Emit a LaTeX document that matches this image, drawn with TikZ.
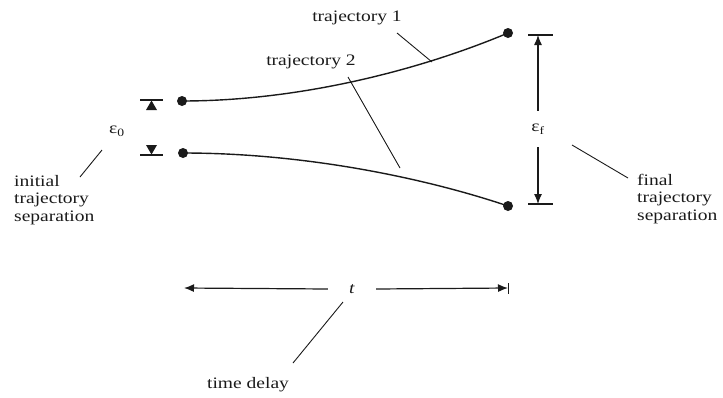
\documentclass[tikz,border=0pt]{standalone}
\usepackage{fontspec}
\setmainfont[FakeStretch=1.22]{Liberation Serif}
\usetikzlibrary{arrows.meta}
\definecolor{ink}{HTML}{1A1A1A}
\tikzset{
  dot/.style={circle, fill=ink, inner sep=0pt, minimum size=10pt},
  lbl/.style={font=\fontsize{16}{17.5}\selectfont, text=ink, inner sep=0pt},
  blk/.style={lbl, align=left, anchor=north west},
  curve/.style={draw=ink, line width=1.4pt},
  lead/.style={draw=ink, line width=0.9pt},
  bar/.style={draw=ink, line width=1.2pt},
  arr/.style={draw=ink, line width=1.2pt, -{Latex[length=10pt,width=8pt]}},
  tri/.style={fill=ink}
}
\begin{document}
\begin{tikzpicture}[x=1pt,y=-1pt]
\useasboundingbox (0,0) rectangle (723,397);

% trajectory end points
\node[dot] (a1) at (182,101) {};
\node[dot] (a2) at (183,153) {};
\node[dot] (b1) at (508,33) {};
\node[dot] (b2) at (508,206) {};

% trajectories
\draw[curve] (a1.center) .. controls (300,101) and (420,70) .. (b1.center);
\draw[curve] (a2.center) .. controls (305,153) and (425,178) .. (b2.center);

% trajectory labels
\node[lbl] (t1) at (357,18) {trajectory 1};
\node[lbl] (t2) at (311,62) {trajectory 2};
\coordinate (t1s) at (397,33);
\coordinate (t1e) at (432,62);
\coordinate (t2s) at (348,77);
\coordinate (t2e) at (400,168);
\draw[lead] (t1s) -- (t1e);
\draw[lead] (t2s) -- (t2e);

% initial separation markers
\coordinate (m1l) at (140,100);
\coordinate (m1r) at (163,100);
\coordinate (m2l) at (140,155);
\coordinate (m2r) at (163,155);
\draw[bar] (m1l) -- (m1r);
\draw[bar] (m2l) -- (m2r);
\fill[tri] (151.5,100.5) -- (146,110) -- (157,110) -- cycle;
\fill[tri] (151.5,154.5) -- (146,145) -- (157,145) -- cycle;
\node[lbl] (e0) at (117,131) {ε\textsubscript{0}};
\coordinate (i1) at (102,150);
\coordinate (i2) at (80,177);
\draw[lead] (i1) -- (i2);
\node[blk] (init) at (14,175) {initial\\trajectory\\separation};

% final separation
\coordinate (f1l) at (528,35);
\coordinate (f1r) at (553,35);
\coordinate (f2l) at (528,204);
\coordinate (f2r) at (553,204);
\draw[bar] (f1l) -- (f1r);
\draw[bar] (f2l) -- (f2r);
\node[lbl, minimum height=36pt] (ef) at (538,129) {ε\textsubscript{f}};
\coordinate (ft) at (538,35);
\coordinate (fb) at (538,204);
\draw[arr] (ef.north) -- (ft);
\draw[arr] (ef.south) -- (fb);
\coordinate (g1) at (572,145);
\coordinate (g2) at (628,178);
\draw[lead] (g1) -- (g2);
\node[blk] (fin) at (637,174) {final\\trajectory\\separation};

% time delay
\node[lbl, inner xsep=21pt] (t) at (352,289) {\textit{t}};
\coordinate (tl) at (184,288);
\coordinate (tr) at (508,288);
\draw[arr] (t.west) -- (tl);
\draw[arr] (t.east) -- (tr);
\coordinate (tk1) at (508,283);
\coordinate (tk2) at (508,294);
\draw[lead] (tk1) -- (tk2);
\coordinate (d1) at (343,302);
\coordinate (d2) at (293,363);
\draw[lead] (d1) -- (d2);
\node[lbl] (td) at (248,385) {time delay};
\end{tikzpicture}
\end{document}
